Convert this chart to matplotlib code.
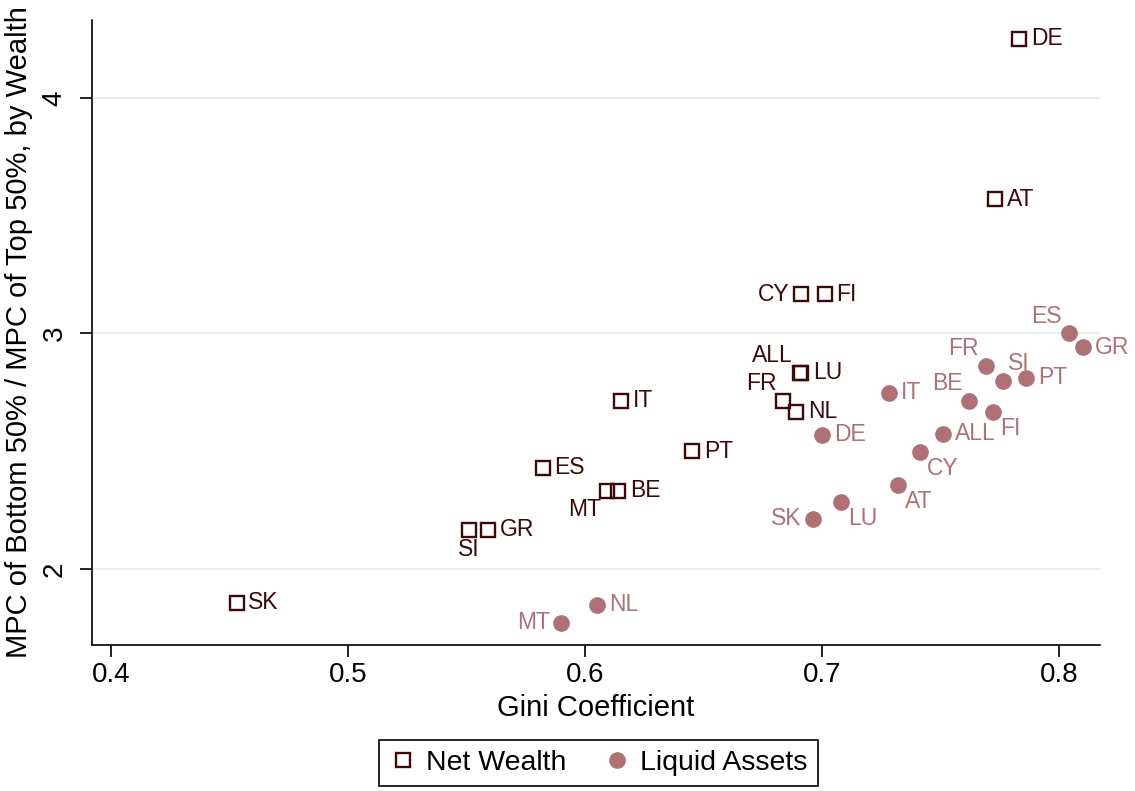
import matplotlib
matplotlib.use("Agg")
import matplotlib.pyplot as plt

plt.rcParams['font.family'] = ['Liberation Sans', 'DejaVu Sans']

# ---------------- data ----------------
nw_labels = ['DE', 'AT', 'CY', 'FI', 'ALL', 'LU', 'FR', 'NL', 'IT', 'PT',
             'ES', 'MT', 'BE', 'SI', 'GR', 'SK']
nw_gini = [0.783, 0.773, 0.691, 0.701, 0.6905, 0.691, 0.6835, 0.689, 0.615, 0.645,
           0.582, 0.609, 0.614, 0.551, 0.559, 0.453]
nw_ratio = [4.25, 3.57, 3.165, 3.165, 2.832, 2.832, 2.713, 2.667, 2.713, 2.50,
            2.43, 2.331, 2.331, 2.166, 2.166, 1.856]

la_labels = ['ES', 'GR', 'FR', 'SI', 'PT', 'BE', 'FI', 'IT', 'DE', 'ALL',
             'CY', 'AT', 'LU', 'SK', 'NL', 'MT']
la_gini = [0.804, 0.810, 0.769, 0.776, 0.786, 0.762, 0.772, 0.728, 0.700, 0.751,
           0.741, 0.732, 0.708, 0.696, 0.605, 0.590]
la_ratio = [3.00, 2.94, 2.862, 2.798, 2.811, 2.713, 2.667, 2.747, 2.569, 2.573,
            2.497, 2.357, 2.285, 2.212, 1.847, 1.771]

# label placement (clock position, Stata style)
nw_pos = [3, 3, 9, 3, 10, 3, 10, 3, 3, 3, 3, 7, 3, 6, 3, 3]
la_pos = [10, 3, 10, 1, 3, 10, 4, 3, 3, 3, 4, 4, 4, 9, 3, 9]

NW_COL = '#3d0808'
LA_COL = '#b07174'
GRID_COL = '#e6eff1'

OFFSETS = {
    3: ((8.5, 0), 'left', 'center'),
    9: ((-8, 0), 'right', 'center'),
    10: ((-5, 4), 'right', 'bottom'),
    1: ((4, 4), 'left', 'bottom'),
    4: ((5, -4), 'left', 'top'),
    7: ((-4, -5), 'right', 'top'),
    6: ((0, -6), 'center', 'top'),
}

fig = plt.figure(figsize=(11.35, 7.91), dpi=100)
ax = fig.add_axes([0.081, 0.1846, 0.888, 0.790])

ax.set_xlim(0.392, 0.817)
ax.set_ylim(1.677, 4.33)

for y in [2, 3, 4]:
    ax.axhline(y, color=GRID_COL, lw=1.6, zorder=0)

ax.plot(nw_gini, nw_ratio, linestyle='none', marker='s', markersize=9.5,
        markerfacecolor='none', markeredgecolor=NW_COL, markeredgewidth=1.7,
        label='Net Wealth', zorder=3)
ax.plot(la_gini, la_ratio, linestyle='none', marker='o', markersize=11,
        markerfacecolor=LA_COL, markeredgecolor=LA_COL,
        label='Liquid Assets', zorder=3)


def put_labels(xs, ys, labs, poss, color):
    for x, y, lab, p in zip(xs, ys, labs, poss):
        off, ha, va = OFFSETS[p]
        ax.annotate(lab, (x, y), xytext=off, textcoords='offset points',
                    ha=ha, va=va, fontsize=16.5, color=color)


put_labels(nw_gini, nw_ratio, nw_labels, nw_pos, NW_COL)
put_labels(la_gini, la_ratio, la_labels, la_pos, LA_COL)

ax.spines['top'].set_visible(False)
ax.spines['right'].set_visible(False)
for s in ['left', 'bottom']:
    ax.spines[s].set_linewidth(1.2)

ax.set_xticks([0.4, 0.5, 0.6, 0.7, 0.8])
ax.set_xticklabels(['0.4', '0.5', '0.6', '0.7', '0.8'])
ax.set_yticks([2, 3, 4])
ax.set_yticklabels(['2', '3', '4'], rotation=90, va='center')
ax.tick_params(axis='both', direction='out', length=8.5, width=1.2,
               labelsize=20)
ax.tick_params(axis='x', pad=4)
ax.tick_params(axis='y', pad=9)

ax.set_xlabel('Gini Coefficient', fontsize=21, labelpad=4)
ax.set_ylabel('MPC of Bottom 50% / MPC of Top 50%, by Wealth',
              fontsize=21, labelpad=6)

leg = fig.legend(loc='center', bbox_to_anchor=(0.527, 0.035), ncol=2,
                 fontsize=20.5, frameon=True, fancybox=False,
                 edgecolor='black', framealpha=1, handletextpad=0.3,
                 columnspacing=1.3, borderpad=0.35, handlelength=1.0)
leg.get_frame().set_linewidth(1.2)

fig.savefig('out.png', dpi=100)
